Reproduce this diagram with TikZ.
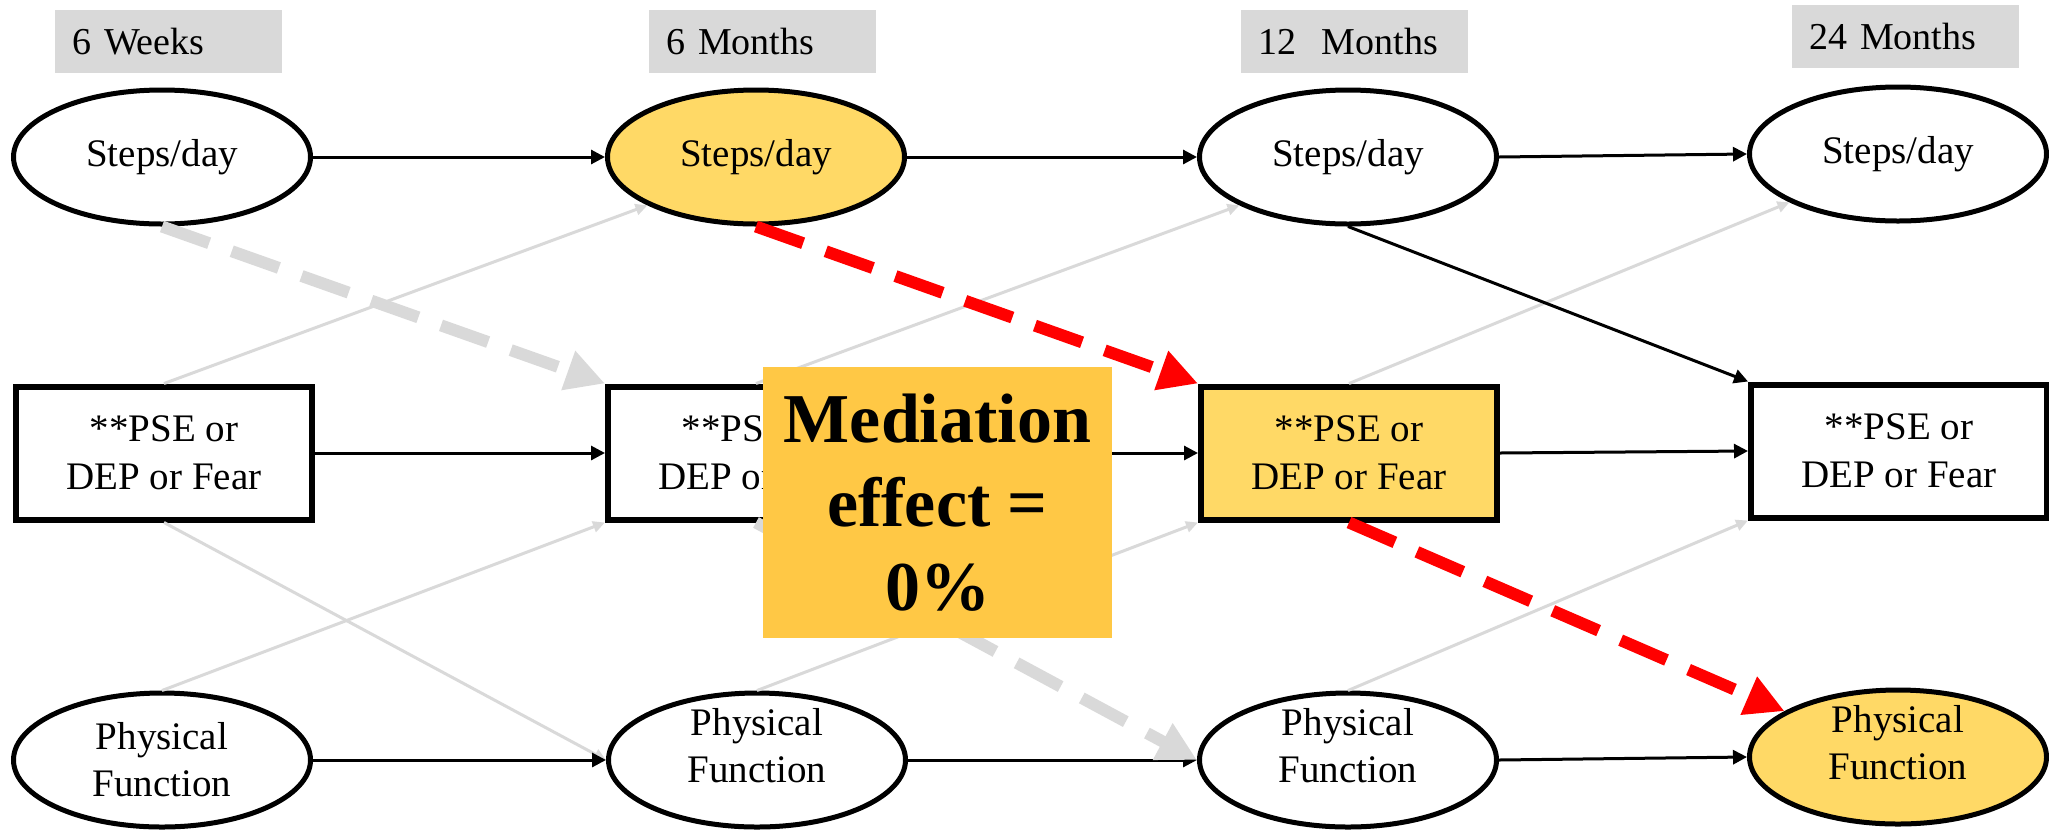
\documentclass[tikz,border=0pt]{standalone}
\usepackage{fontspec}
\setmainfont{LiberationSerif}[Extension=.ttf, UprightFont=*-Regular, BoldFont=*-Bold,
  ItalicFont=*-Italic, BoldItalicFont=*-BoldItalic]
\usetikzlibrary{arrows.meta,shapes.geometric}
\definecolor{tagfill}{HTML}{D9D9D9}
\definecolor{pathgray}{HTML}{D9D9D9}
\definecolor{hilite}{HTML}{FFD966}
\definecolor{medfill}{HTML}{FFC845}
\definecolor{medred}{HTML}{FF0000}
% lift the two-line text a little inside its ellipse
\newcommand{\liftedpair}[2]{\raisebox{5pt}[\height][\depth]{\begin{tabular}{@{}c@{}}#1\\#2\end{tabular}}}

\begin{document}
\begin{tikzpicture}[x=0.5pt,y=-0.5pt,
  tag/.style={rectangle, fill=tagfill, anchor=north west, inner xsep=8.5pt, inner ysep=0pt,
    text width=96.5pt, minimum height=31.5pt, align=left, font=\fontsize{19}{23}\selectfont},
  latent/.style={ellipse, draw, line width=2.5pt, fill=white, inner sep=0pt,
    minimum width=148.5pt, minimum height=67pt, align=center,
    font=\fontsize{19.5}{23.5}\selectfont},
  measure/.style={rectangle, draw, line width=3pt, fill=white, inner sep=0pt,
    minimum width=148pt, minimum height=66.5pt, align=center,
    font=\fontsize{19.5}{24}\selectfont},
  marked/.style={fill=hilite},
  medbox/.style={rectangle, fill=medfill, inner sep=0pt, minimum width=174.5pt,
    minimum height=135.5pt, align=center, font=\fontsize{35}{42}\selectfont\bfseries},
  solidpath/.style={line width=1.5pt, -{Triangle[length=7pt,width=7pt]}},
  faintpath/.style={line width=1.5pt, pathgray, -{Triangle[length=6pt,width=5.5pt]}},
  dashpath/.style={line width=6pt, dash pattern=on 25pt off 12pt,
    -{Triangle[length=19.5pt,width=19.5pt]}},
]
\useasboundingbox (0,0) rectangle (2049,831);

% time point headers
\node[tag] (t1) at (55,10) {6 Weeks};
\node[tag] (t2) at (649,10) {6 Months};
\node[tag] (t3) at (1241,10) {12~ Months};
\node[tag] (t4) at (1792,5) {24 Months};

% steps per day
\node[latent] (s1) at (162,157) {Steps/day};
\node[latent,marked] (s2) at (756,157) {Steps/day};
\node[latent] (s3) at (1348,157) {Steps/day};
\node[latent] (s4) at (1898,154) {Steps/day};

% mediators
\node[measure] (r1) at (164,453) {**PSE or\\DEP or Fear};
\node[measure] (r2) at (756,453) {**PSE or\\DEP or Fear};
\node[measure,marked] (r3) at (1349,453) {**PSE or\\DEP or Fear};
\node[measure] (r4) at (1899,451) {**PSE or\\DEP or Fear};

% physical function
\node[latent] (p1) at (162,760) {Physical\\Function};
\node[latent] (p2) at (757,760) {\liftedpair{Physical}{Function}};
\node[latent] (p3) at (1348,760) {\liftedpair{Physical}{Function}};
\node[latent,marked] (p4) at (1898,757) {\liftedpair{Physical}{Function}};

% cross-lagged paths (faint)
\draw[faintpath] (r1.north) -- (s2.204);
\draw[faintpath] (r2.north) -- (s3.204);
\draw[faintpath] (r3.north) -- (s4.204);
\draw[faintpath] (p1.north) -- (r2.south west);
\draw[faintpath] (p2.north) -- (r3.south west);
\draw[faintpath] (p3.north) -- (r4.south west);
\draw[faintpath] (r1.south) -- (p2.west);

% autoregressive paths
\draw[solidpath] (s1.east) -- (s2.west);
\draw[solidpath] (s2.east) -- (s3.west);
\draw[solidpath] (s3.east) -- (s4.west);
\draw[solidpath] (r1.east) -- (r2.west);
\draw[solidpath] (r2.east) -- (r3.west);
\draw[solidpath] (r3.east) -- (r4.west);
\draw[solidpath] (p1.east) -- (p2.west);
\draw[solidpath] (p2.east) -- (p3.west);
\draw[solidpath] (p3.east) -- (p4.west);
\draw[solidpath] (s3.south) -- (r4.north west);

% indirect paths
\draw[dashpath, pathgray] (s1.south) -- (r2.north west);
\draw[dashpath, pathgray] (r2.south) -- (p3.west);
\draw[dashpath, medred] (s2.south) -- (r3.north west);
\draw[dashpath, medred] (r3.south) -- (p4.158);

% result
\node[medbox] (med) at (937.5,502.5) {Mediation\\effect =\\0\%};
\end{tikzpicture}
\end{document}
